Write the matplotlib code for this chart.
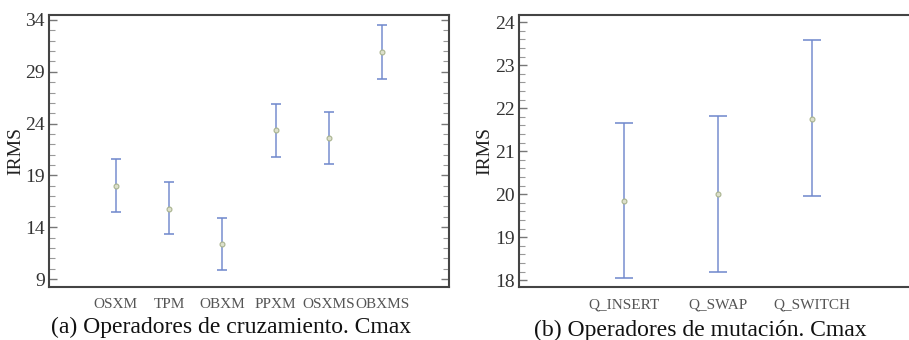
import matplotlib
matplotlib.use("Agg")
import matplotlib.pyplot as plt
from matplotlib.ticker import MultipleLocator

plt.rcParams['font.family'] = ['Liberation Serif', 'DejaVu Serif']

# Data: (a) crossover operators
cross_labels = ["OSXM", "TPM", "OBXM", "PPXM", "OSXMS", "OBXMS"]
cross_mean = [18.0, 15.8, 12.35, 23.35, 22.6, 30.9]
cross_low = [15.5, 13.3, 9.87, 20.8, 20.07, 28.35]
cross_high = [20.58, 18.33, 14.86, 25.9, 25.12, 33.5]

# Data: (b) mutation operators
mut_labels = ["Q_INSERT", "Q_SWAP", "Q_SWITCH"]
mut_mean = [19.84, 20.0, 21.76]
mut_low = [18.04, 18.2, 19.96]
mut_high = [21.66, 21.82, 23.58]

fig = plt.figure(figsize=(9.09, 3.4), dpi=100)
ax1 = fig.add_axes([49/909, 53/340, 400/909, 272/340])
ax2 = fig.add_axes([519/909, 53/340, 392/909, 272/340])

bar_color = '#7088cc'
pt_face = '#dde0cc'
pt_edge = '#a9b38e'

def draw(ax, labels, mean, low, high, capsize):
    xs = list(range(1, len(labels) + 1))
    yerr = [[m - l for m, l in zip(mean, low)], [h - m for m, h in zip(mean, high)]]
    ax.errorbar(xs, mean, yerr=yerr, fmt='none', ecolor=bar_color, elinewidth=1.3,
                capsize=capsize, capthick=1.4, alpha=0.8, zorder=2)
    ax.plot(xs, mean, 'o', ms=3.5, mfc=pt_face, mec=pt_edge, mew=0.8, zorder=3)
    ax.set_xticks(xs)
    ax.set_xticklabels(labels, fontsize=11, color='#555555')
    ax.tick_params(axis='x', length=0, pad=8)
    ax.tick_params(axis='y', which='major', direction='in', length=6, width=1,
                   color='#777777', labelsize=14, labelcolor='#333333', right=True, pad=3)
    ax.tick_params(axis='y', which='minor', direction='in', length=4, width=0.8,
                   color='#999999', right=True)
    for s in ax.spines.values():
        s.set_color('#444444')
        s.set_linewidth(1.5)
    ax.set_ylabel('IRMS', fontsize=14, color='#222222', labelpad=1)

draw(ax1, cross_labels, cross_mean, cross_low, cross_high, 3.6)
ax1.set_xlim(-0.25, 7.25)
ax1.set_ylim(8.23, 34.48)
ax1.set_yticks([9, 14, 19, 24, 29, 34])
ax1.yaxis.set_minor_locator(MultipleLocator(1))

draw(ax2, mut_labels, mut_mean, mut_low, mut_high, 6.8)
ax2.set_xlim(-0.12, 4.05)
ax2.set_ylim(17.84, 24.17)
ax2.set_yticks([18, 19, 20, 21, 22, 23, 24])
ax2.yaxis.set_minor_locator(MultipleLocator(0.2))
ax2.spines['right'].set_visible(False)
ax2.tick_params(axis='y', which='both', right=False)

fig.text(231/909, 1 - 327/340, '(a) Operadores de cruzamiento. Cmax', ha='center', va='center', fontsize=17, color='#111111')
fig.text(700/909, 1 - 330/340, '(b) Operadores de mutación. Cmax', ha='center', va='center', fontsize=17, color='#111111')

fig.savefig('out.png', dpi=100)
